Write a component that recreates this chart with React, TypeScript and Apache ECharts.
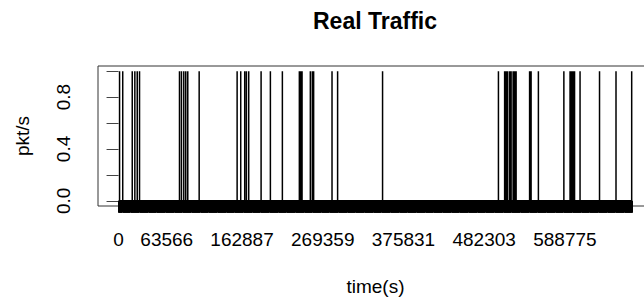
import React, { useEffect, useRef } from "react";
import * as echarts from "echarts";

// Times (s) at which one packet per second was seen
const spikeTimes = [
  1318, 5500, 18052, 21479, 24641, 27672, 80380, 83015, 86046, 88681, 91317,
  106338, 156410, 161154, 166425, 168665, 171696, 188035, 200290, 216102,
  238503, 240480, 242061, 252998, 255633, 257346, 281592, 288971, 348268,
  501122, 509292, 511268, 513245, 515880, 517857, 520492, 522469, 524446,
  542234, 544211, 553830, 587431, 595601, 597577, 599554, 601531, 608778,
  634473, 656215, 676903,
];
const endTime = 677900;
const xLabelValues = [0, 63566, 162887, 269359, 375831, 482303, 588775];
const yTickValues = [0, 0.2, 0.4, 0.6, 0.8, 1.0];
const yLabelValues = [0, 0.4, 0.8];
const sampleStep = 700;

const FONT = "'Liberation Sans', Arial, Helvetica, sans-serif";

export default function App() {
  const ref = useRef<HTMLDivElement>(null);
  useEffect(() => {
    if (!ref.current) return;
    const chart = echarts.init(ref.current, undefined, { renderer: "svg" });

    const lineData: number[][] = [[0, 0]];
    for (const t of spikeTimes) {
      lineData.push([t, 0], [t, 1], [t, 0]);
    }
    lineData.push([endTime, 0]);

    const sampleTimes: number[] = [];
    for (let t = 0; t <= endTime; t += sampleStep) sampleTimes.push(t);

    chart.setOption({
      animation: false,
      graphic: [
        {
          type: "text",
          x: 375,
          y: 21,
          style: {
            text: "Real Traffic",
            font: `bold 23px ${FONT}`,
            fill: "#000",
            align: "center",
            verticalAlign: "middle",
          },
        },
      ],
      grid: {
        left: 98,
        right: -9,
        top: 66,
        bottom: 92,
        show: true,
        borderColor: "#333",
        borderWidth: 1,
        backgroundColor: "transparent",
        containLabel: false,
        outerBoundsMode: "none",
      },
      xAxis: {
        type: "value",
        min: -0.04 * endTime,
        max: 1.04 * endTime,
        splitLine: { show: false },
        axisLine: { show: false },
        axisTick: {
          show: true,
          customValues: sampleTimes,
          length: 12,
          lineStyle: { color: "#000", width: 1 },
        },
        axisLabel: {
          customValues: xLabelValues,
          margin: 24,
          color: "#000",
          fontSize: 19,
          fontFamily: FONT,
          formatter: (v: number) => String(v),
        },
        name: "time(s)",
        nameLocation: "middle",
        nameGap: 71,
        nameTextStyle: { color: "#000", fontSize: 19, fontFamily: FONT },
      },
      yAxis: {
        type: "value",
        min: -0.04,
        max: 1.04,
        splitLine: { show: false },
        axisLine: { show: false },
        axisTick: {
          show: true,
          customValues: yTickValues,
          length: 12,
          lineStyle: { color: "#444", width: 1 },
        },
        axisLabel: {
          customValues: yLabelValues,
          rotate: 90,
          margin: 25,
          color: "#000",
          fontSize: 19,
          fontFamily: FONT,
          formatter: (v: number) => v.toFixed(1),
        },
        name: "pkt/s",
        nameLocation: "middle",
        nameGap: 66,
        nameTextStyle: { color: "#000", fontSize: 19, fontFamily: FONT },
      },
      series: [
        {
          type: "line",
          data: lineData,
          symbol: "none",
          lineStyle: { color: "#000", width: 1.5 },
          silent: true,
        },
      ],
    });
    return () => chart.dispose();
  }, []);
  return (
    <div
      ref={ref}
      style={{ position: "fixed", left: 0, top: 0, width: 644, height: 298, background: "#fff" }}
    />
  );
}
